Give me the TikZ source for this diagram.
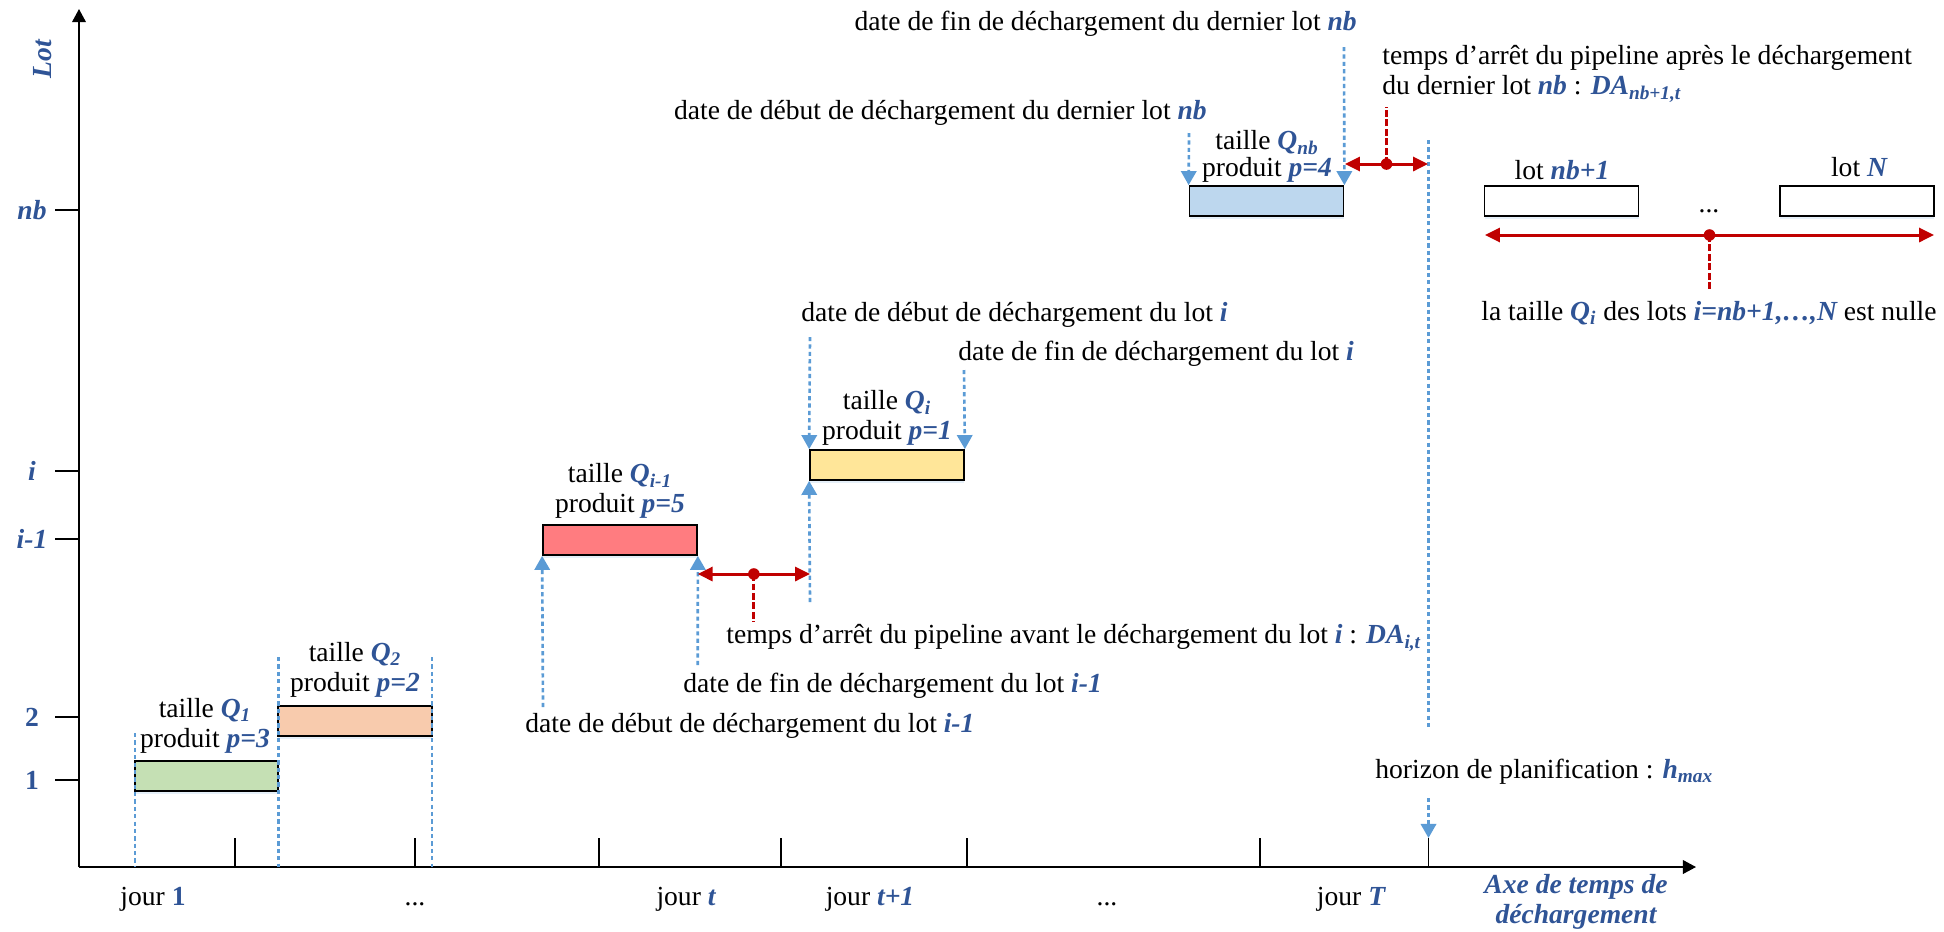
\documentclass[tikz,border=0pt]{standalone}
\usepackage{fontspec}
\setmainfont{Liberation Serif}
\usetikzlibrary{calc,arrows.meta,positioning,shadows}
\definecolor{lotblue}{HTML}{2F5496}
\definecolor{dashblue}{HTML}{5B9BD5}
\definecolor{stopred}{HTML}{C00000}
\definecolor{lotgreen}{HTML}{C5E0B4}
\definecolor{lotorange}{HTML}{F8CBAD}
\definecolor{lotred}{HTML}{FF7C80}
\definecolor{lotyellow}{HTML}{FFE699}
\definecolor{lotsky}{HTML}{BDD7EE}
\newcommand\bl[1]{\textcolor{lotblue}{\bfseries\itshape #1}}
\newcommand\bn[1]{\textcolor{lotblue}{\bfseries #1}}
\newlength\pxsize
\setlength\pxsize{0.02cm}
\tikzset{
  lotbox/.style={draw, fill=white, line width=1pt, minimum width=154\pxsize, minimum height=30\pxsize, inner sep=0pt,
    drop shadow={shadow xshift=0pt, shadow yshift=-1.8pt, fill=dashblue!60, opacity=0.25}},
  txt/.style={inner sep=0pt, align=center},
  dline/.style={dashblue, line width=1.5pt, dash pattern=on 2.4pt off 1.8pt},
  darrow/.style={dline, -{Triangle[length=8pt,width=8.7pt]}},
  rline/.style={stopred, line width=1.6pt, dash pattern=on 3.8pt off 1.6pt},
  rarrow/.style={stopred, line width=1.7pt, {Triangle[length=8.5pt,width=8pt]}-{Triangle[length=8.5pt,width=8pt]}},
  axis/.style={line width=1pt, -{Triangle[length=7.5pt,width=7.8pt]}}
}

\begin{document}
\begin{tikzpicture}[x=\pxsize, y=-\pxsize, every node/.style={font=\fontsize{15.7}{17}\selectfont}]
    \useasboundingbox (0,0) rectangle (1944,931);

    % axes
    \coordinate (o) at (79,867);
    \coordinate (xend) at (1696,867);
    \coordinate (yend) at (79,9);
    \draw[axis] (o) -- (xend);
    \draw[axis] (o) -- (yend);
    \node[txt, rotate=90] (lotaxe) at (43,59) {\bl{Lot}};
    \node[txt] (axetemps) at (1576,902) {\bl{Axe de temps de}\\\bl{déchargement}};

    \foreach \t in {235,415,599,781,967,1260,1428.5}{
        \draw[line width=0.8pt] (\t,867) -- ++(0,-29);
    }
    \foreach \y/\lab in {210/{\bl{nb}},471/{\bl{i}},539/{\bl{i-1}},717/{\bn{2}},780/{\bn{1}}}{
        \draw[line width=0.9pt] (55,\y) -- (79,\y);
        \node[txt] (ty\y) at (32,\y) {\lab};
    }
    \foreach \x/\lab [count=\k] in {153/{jour \bn{1}},415/{...},686/{jour \bl{t}},870/{jour \bl{t+1}},1107/{...},1351/{jour \bl{T}}}{
        \node[txt, anchor=base] (tx\k) at (\x,905) {\lab};
    }

    % lots
    \node[lotbox, fill=lotgreen, minimum width=143\pxsize] (q1) at (206.5,776) {};
    \node[lotbox, fill=lotorange] (q2) at (355,721) {};
    \node[lotbox, fill=lotred] (qprev) at (620,540) {};
    \node[lotbox, fill=lotyellow] (qi) at (887,465) {};
    \node[lotbox, fill=lotsky] (qnb) at (1266.5,201) {};
    \node[lotbox] (lotnb) at (1561.5,201) {};
    \node[lotbox] (lotN) at (1857,201) {};

    \node[txt] (q1lab) at (205,726) {taille \bl{Q\textsubscript{1}}\\produit \bl{p=3}};
    \node[txt] (q2lab) at (355,670) {taille \bl{Q\textsubscript{2}}\\produit \bl{p=2}};
    \node[txt] (qprevlab) at (620,491) {taille \bl{Q\textsubscript{i-1}}\\produit \bl{p=5}};
    \node[txt] (qilab) at (887,418) {taille \bl{Q\textsubscript{i}}\\produit \bl{p=1}};
    \node[txt, font=\fontsize{15.7}{15.4}\selectfont] (qnblab) at (1267,156.5) {taille \bl{Q\textsubscript{nb}}\\produit \bl{p=4}};
    \node[txt] (lotnblab) at (1562,170) {lot \bl{nb+1}};
    \node[txt] (lotNlab) at (1859,167) {lot \bl{N}};
    \node[txt] (dots) at (1709,211) {...};

    % dates
    \coordinate (d1) at (135,733);
    \coordinate (d2) at (278.5,657);
    \coordinate (d3) at (432,657);
    \draw[dline] (d1) -- (d1 |- o);
    \draw[dline] (d2) -- (d2 |- o);
    \draw[dline] (d3) -- (d3 |- o);

    \coordinate (a1) at (543,707);
    \coordinate (a2) at (697.7,665);
    \coordinate (a3) at (810,602);
    \coordinate (a4) at (810,337);
    \coordinate (a5) at (964,370);
    \coordinate (a6) at (1189,133);
    \coordinate (a7) at (1344,47);
    \draw[darrow] (a1) -- (qprev.south west);
    \draw[darrow] (a2) -- (qprev.south east);
    \draw[darrow] (a3) -- (qi.south west);
    \draw[darrow] (a4) -- (qi.north west);
    \draw[darrow] (a5) -- (qi.north east);
    \draw[darrow] (a6) -- (qnb.north west);
    \draw[darrow] (a7) -- (qnb.north east);

    % horizon
    \coordinate (h1) at (1428.5,140);
    \coordinate (h2) at (1428.5,728);
    \coordinate (h3) at (1428.5,798);
    \coordinate (htick) at (1428.5,838);
    \draw[dline] (h1) -- (h2);
    \draw[darrow] (h3) -- (htick);

    % temps d'arret
    \coordinate (r1) at (697.7,574);
    \coordinate (r2) at (810,574);
    \coordinate (r3) at (1345,164);
    \coordinate (r4) at (1428,164);
    \coordinate (r5) at (1485,235);
    \coordinate (r6) at (1934,235);
    \foreach \a/\b/\len in {r1/r2/48, r3/r4/-57, r5/r6/55}{
        \coordinate (mid) at ($(\a)!0.5!(\b)$);
        \draw[rarrow] (\a) -- (\b);
        \draw[rline] (mid) -- ++(0,\len);
        \fill[stopred] (mid) circle (3.3pt);
    }

    % texts
    \node[txt, anchor=east] (t1) at (1357,24) {date de fin de déchargement du dernier lot \bl{nb}};
    \node[txt, anchor=east] (t2) at (1207,113) {date de début de déchargement du dernier lot \bl{nb}};
    \node[txt, align=left, anchor=west] (t3) at (1382,74) {temps d’arrêt du pipeline après le déchargement\\du dernier lot \bl{nb} : \bl{DA\textsubscript{nb+1,t}}};
    \node[txt] (t4) at (1709,313) {la taille \bl{Q\textsubscript{i}} des lots \bl{i=nb+1,…,N} est nulle};
    \node[txt, anchor=west] (t5) at (801,315) {date de début de déchargement du lot \bl{i}};
    \node[txt, anchor=west] (t6) at (958,354) {date de fin de déchargement du lot \bl{i}};
    \node[txt, anchor=west] (t7) at (726,638) {temps d’arrêt du pipeline avant le déchargement du lot \bl{i} : \bl{DA\textsubscript{i,t}}};
    \node[txt, anchor=west] (t8) at (683,686) {date de fin de déchargement du lot \bl{i-1}};
    \node[txt, anchor=west] (t9) at (525,726) {date de début de déchargement du lot \bl{i-1}};
    \node[txt, anchor=west] (t10) at (1375,772) {horizon de planification : \bl{h\textsubscript{max}}};
\end{tikzpicture}
\end{document}
